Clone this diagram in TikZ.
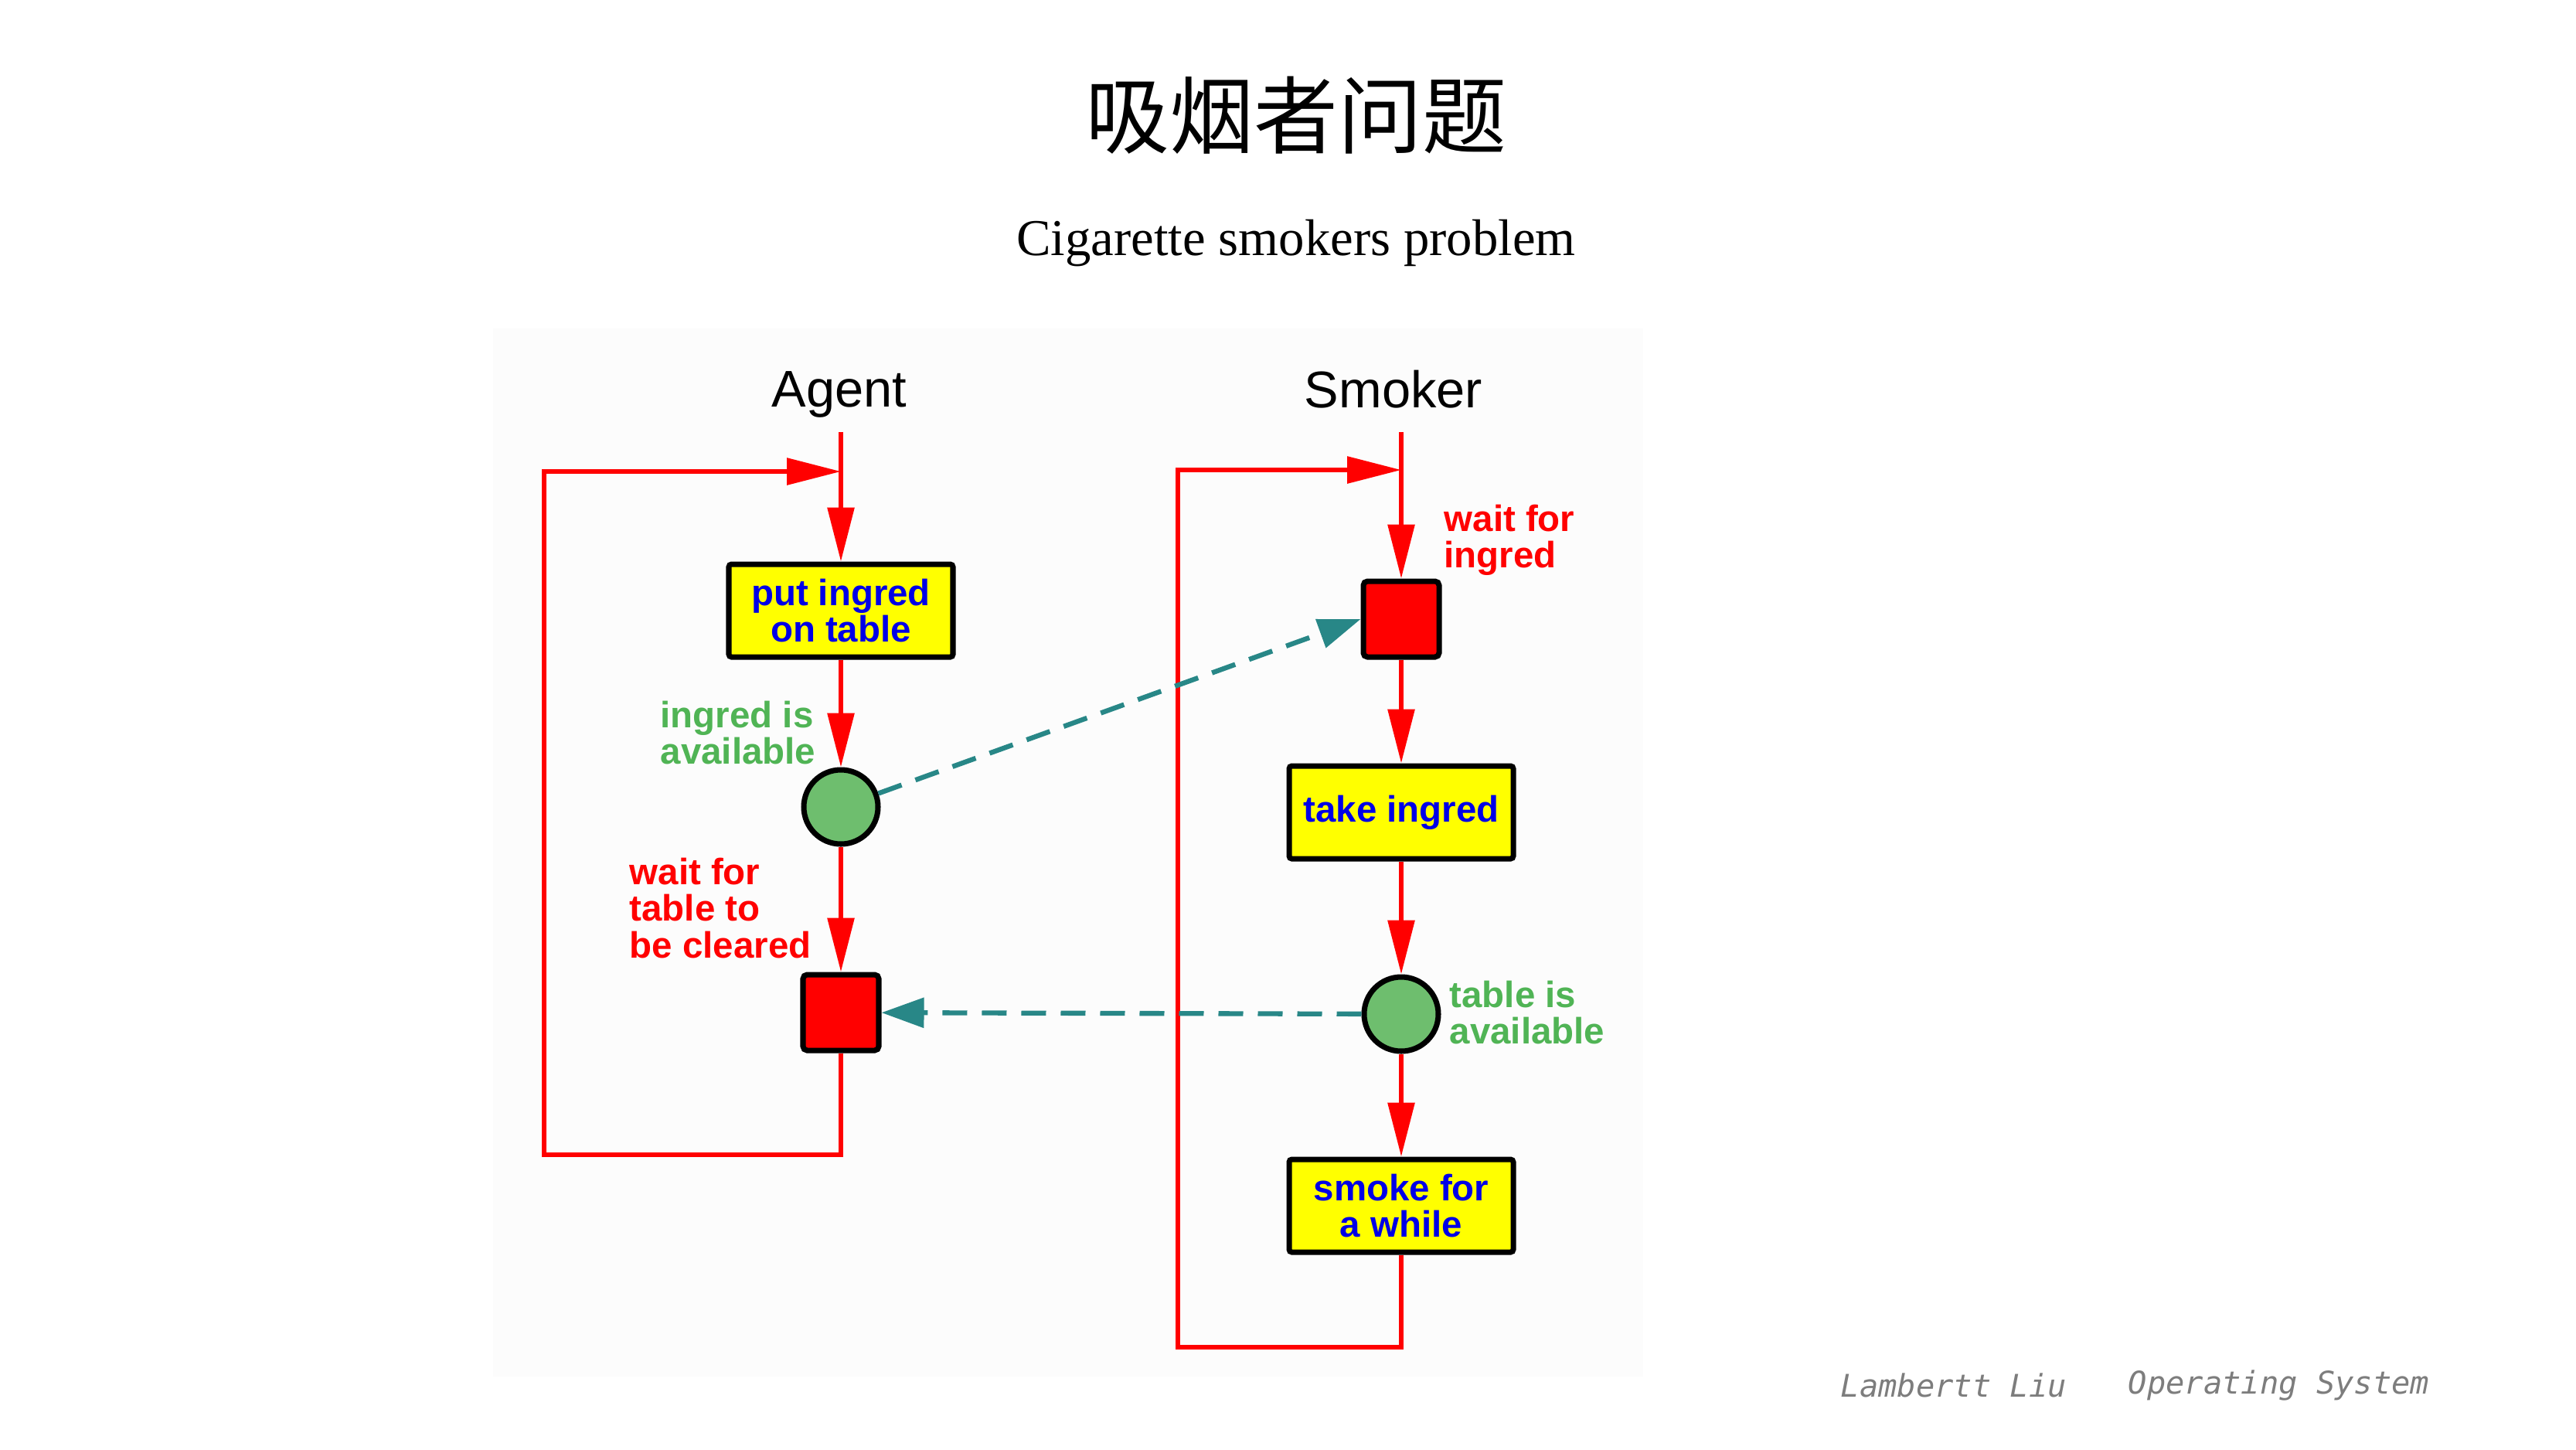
\documentclass[tikz,border=0pt]{standalone}
\usepackage{fontspec}
\setmainfont{Liberation Sans}
\newfontfamily\cjkfont{Noto Sans CJK SC}
\newfontfamily\subfont{Liberation Serif}
\newfontfamily\footfont{DejaVu Sans Mono}
\usetikzlibrary{arrows.meta}

\definecolor{flowred}{RGB}{255,0,0}
\definecolor{boxyellow}{RGB}{255,255,0}
\definecolor{txtblue}{RGB}{0,0,230}
\definecolor{dotgreen}{RGB}{110,190,110}
\definecolor{txtgreen}{RGB}{80,180,85}
\definecolor{signalteal}{RGB}{40,135,135}
\definecolor{footgray}{RGB}{125,125,125}

\begin{document}
\begin{tikzpicture}[
        flow/.style={flowred, line width=1.7pt, -{Triangle[length=0.7cm,width=0.34cm]}},
        signal/.style={signalteal, line width=1.8pt, dash pattern=on 0.32cm off 0.19cm,
                       -{Triangle[length=0.55cm,width=0.38cm]}},
        task/.style={draw=black, line width=2pt, fill=boxyellow, text=txtblue, align=center,
                     font=\bfseries\fontsize{13.5}{13.5}\selectfont,
                     minimum width=2.9cm, minimum height=1.2cm, inner sep=0pt, rounded corners=1pt},
        waitsq/.style={draw=black, line width=2pt, fill=flowred, minimum size=0.98cm,
                       inner sep=0pt, rounded corners=1.5pt},
        availdot/.style={circle, draw=black, line width=2pt, fill=dotgreen, minimum size=0.96cm, inner sep=0pt},
        note/.style={font=\bfseries\fontsize{13.5}{13.5}\selectfont, align=left, anchor=west, inner sep=0pt},
        head/.style={font=\fontsize{19}{19}\selectfont},
        foot/.style={font=\footfont\itshape\fontsize{11.5}{11.5}\selectfont, text=footgray, anchor=west, inner sep=0pt}]
    \useasboundingbox (0,0) rectangle (33.33,-18.75);
    \fill[black!1] (6.38,-4.25) rectangle (21.26,-17.81); % fons del diagrama

    % Titols
    \node (title) at (16.77,-1.49) {\cjkfont\fontsize{31}{31}\selectfont 吸烟者问题};
    \node (subtitle) at (16.77,-3.15) {\subfont\fontsize{19}{19}\selectfont Cigarette smokers problem};

    % Agent
    \node[head] (agent) at (10.86,-5.10) {Agent};
    \coordinate (atop) at (10.88,-5.59);
    \coordinate (ajoin) at (10.88,-6.10);
    \coordinate (acorner) at (7.04,-14.94);
    \node[task] (put) at (10.88,-7.90) {put ingred\\on table};
    \node[availdot] (ac) at (10.88,-10.44) {};
    \node[waitsq] (as) at (10.88,-13.10) {};
    \node[note, text=txtgreen] (aavail) at (8.54,-9.48) {ingred is\\available};
    \node[note, text=flowred] (await) at (8.14,-11.75) {wait for\\table to\\be cleared};
    \draw[flow] (atop) -- (put);
    \draw[flow] (put) -- (ac);
    \draw[flow] (ac) -- (as);
    \draw[flow] (as.south) |- (acorner) |- (ajoin); % tornada

    % Smoker
    \node[head] (smoker) at (18.03,-5.04) {Smoker};
    \coordinate (stop) at (18.13,-5.59);
    \coordinate (sjoin) at (18.13,-6.08);
    \coordinate (scorner) at (15.24,-17.43);
    \node[waitsq] (ws) at (18.13,-8.01) {};
    \node[task] (take) at (18.13,-10.51) {take ingred};
    \node[availdot] (sc) at (18.13,-13.12) {};
    \node[task] (smoke) at (18.13,-15.60) {smoke for\\a while};
    \node[note, text=flowred] (swait) at (18.68,-6.99) {wait for\\ingred};
    \node[note, text=txtgreen] (savail) at (18.75,-13.10) {table is\\available};
    \draw[flow] (stop) -- (ws);
    \draw[flow] (ws) -- (take);
    \draw[flow] (take) -- (sc);
    \draw[flow] (sc) -- (smoke);
    \draw[flow] (smoke.south) |- (scorner) |- (sjoin); % tornada

    % Senyals entre processos
    \draw[signal] (ac) -- (ws.west);
    \draw[signal] (sc) -- (as);

    % Peu
    \node[foot] (footauthor) at (23.81,-17.92) {Lambertt Liu};
    \node[foot] (footcourse) at (27.53,-17.92) {Operating System};
\end{tikzpicture}
\end{document}
